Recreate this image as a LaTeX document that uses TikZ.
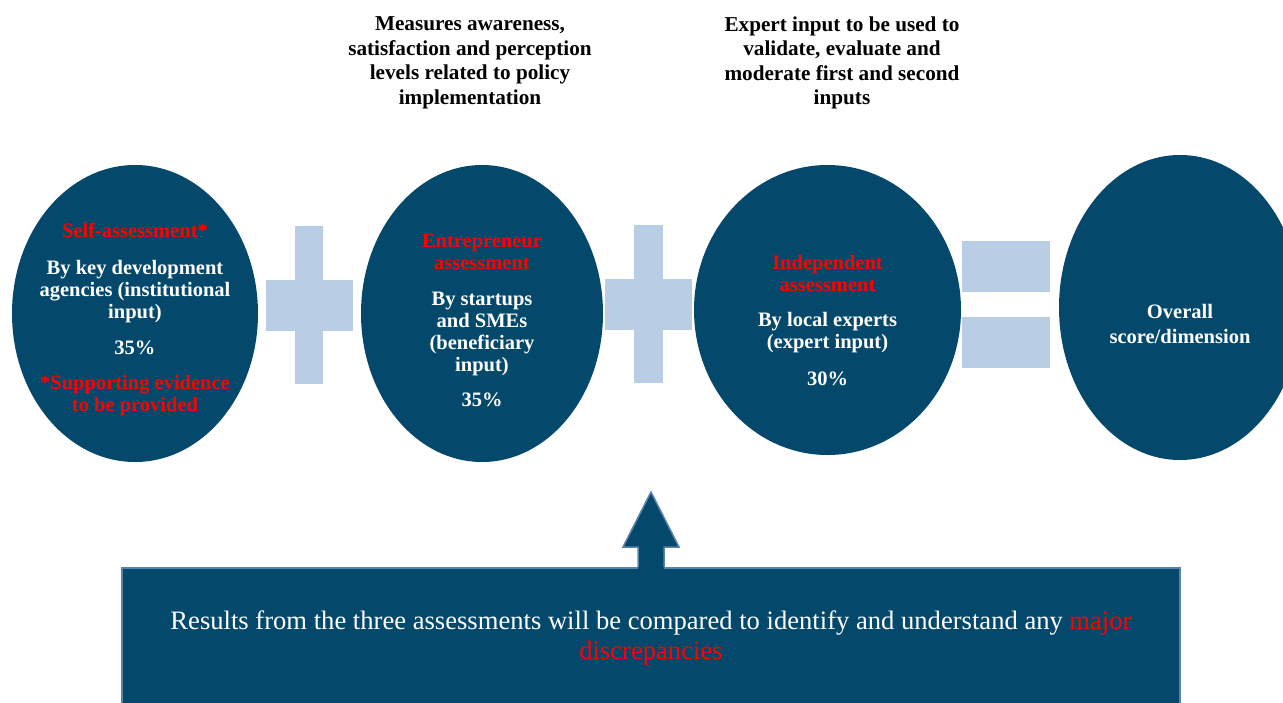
\documentclass[tikz,border=0pt]{standalone}
\usepackage{fontspec}
\setmainfont{Liberation Serif}
\usetikzlibrary{shapes.geometric}
\definecolor{navy}{HTML}{04496B}
\definecolor{paleblue}{HTML}{B9CDE5}
\definecolor{edgeblue}{HTML}{5A82AE}
\definecolor{alert}{HTML}{FF0000}
\begin{document}
\begin{tikzpicture}[x=1pt,y=-1pt,
  disc/.style={ellipse, fill=navy, draw=none, inner sep=0pt},
  bar/.style={rectangle, fill=paleblue, draw=none, inner sep=0pt},
  intext/.style={text=white, align=center, inner sep=0pt,
    font=\fontsize{20.5pt}{22pt}\selectfont\bfseries},
  note/.style={text=black, align=center, inner sep=0pt,
    font=\fontsize{21.2pt}{24.5pt}\selectfont\bfseries},
  hl/.style={text=alert}
]
\clip (0,0) rectangle (1283,702);
\fill[white] (0,0) rectangle (1283,702);

% the four assessment discs
\node[disc, minimum width=246pt, minimum height=297pt] (self) at (135,313.5) {};
\node[disc, minimum width=242pt, minimum height=297pt] (entre) at (482,313.5) {};
\node[disc, minimum width=267pt, minimum height=290pt] (indep) at (827.5,310) {};
\node[disc, minimum width=242pt, minimum height=305pt] (overall) at (1180,307.5) {};

% plus signs
\node[bar, minimum width=28pt, minimum height=158pt] (plusAv) at (309,305) {};
\node[bar, minimum width=87pt, minimum height=51pt] (plusAh) at (309.5,305.5) {};
\node[bar, minimum width=29pt, minimum height=158pt] (plusBv) at (648.5,304) {};
\node[bar, minimum width=87pt, minimum height=51pt] (plusBh) at (648.5,304.5) {};

% equals sign
\node[bar, minimum width=88pt, minimum height=51pt] (eqTop) at (1006,266.5) {};
\node[bar, minimum width=88pt, minimum height=51pt] (eqBot) at (1006,342.5) {};

% texts inside the discs
\node[intext] (selfTxt) at ([yshift=-6pt]self.center)
  {{\color{alert}Self-assessment*}\\[15pt]
   By key development\\agencies (institutional\\input)\\[14pt]
   35\%\\[13pt]
   {\color{alert}*Supporting evidence}\\{\color{alert}to be provided}};
\node[intext] (entreTxt) at ([yshift=-6.5pt]entre.center)
  {{\color{alert}Entrepreneur}\\{\color{alert}assessment}\\[14pt]
   By startups\\and SMEs\\(beneficiary\\input)\\[13pt]
   35\%};
\node[intext] (indepTxt) at ([yshift=-10.5pt]indep.center)
  {{\color{alert}Independent}\\{\color{alert}assessment}\\[13pt]
   By local experts\\(expert input)\\[15pt]
   30\%};
\node[intext] (overallTxt) at ([yshift=-16pt]overall.center)
  {Overall\\[3pt]score/dimension};

% notes above the discs
\node[note] (entreNote) at (470,63)
  {Measures awareness,\\satisfaction and perception\\levels related to policy\\implementation};
\node[note] (indepNote) at (842,63)
  {Expert input to be used to\\validate, evaluate and\\moderate first and second\\inputs};

% comparison panel with its arrow
\node[rectangle, fill=navy, draw=edgeblue, line width=2pt,
      minimum width=1058pt, minimum height=150pt, inner sep=0pt,
      anchor=north] (panel) at (651,567) {};
\node[text=white, align=center, inner sep=0pt,
      font=\fontsize{26.6pt}{30pt}\selectfont] (panelTxt) at (651,638)
  {Results from the three assessments will be compared to identify and understand any {\color{alert}major}\\
   {\color{alert}discrepancies}};

\coordinate (tip) at (651,492);
\fill[navy] ([xshift=-13pt]panel.north |- 0,569) -- ++(0,-22) -- ++(-15,0)
  -- (tip) -- ([xshift=28pt,yshift=-55pt]tip) -- ++(-15,0) -- ([xshift=13pt]panel.north |- 0,569) -- cycle;
\draw[edgeblue, line width=1.5pt, line join=miter]
  ([xshift=-13pt]panel.north |- 0,567) -- ++(0,-20) -- ++(-15,0)
  -- (tip) -- ([xshift=28pt,yshift=-55pt]tip) -- ++(-15,0) -- ([xshift=13pt]panel.north |- 0,567);
\end{tikzpicture}
\end{document}
